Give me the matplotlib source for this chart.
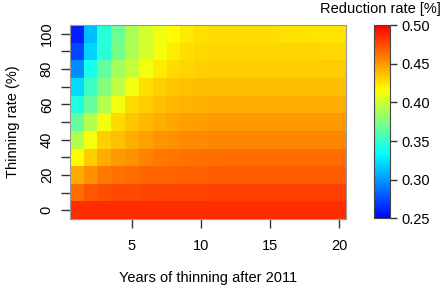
import numpy as np
import matplotlib
matplotlib.use('Agg')
import matplotlib.pyplot as plt
from matplotlib.colors import LinearSegmentedColormap

# data: reduction rate by thinning rate (rows) and year (columns)
years = list(range(1, 21))
thinning = [0, 10, 20, 30, 40, 50, 60, 70, 80, 90, 100]

r0 = [0.485] * 20
r10 = [0.464, 0.471, 0.474, 0.476, 0.476, 0.477, 0.477, 0.478, 0.478, 0.478,
       0.479, 0.479, 0.479, 0.479, 0.479, 0.479, 0.479, 0.479, 0.479, 0.479]
r20 = [0.445, 0.453, 0.460, 0.462, 0.464, 0.466, 0.467, 0.467, 0.468, 0.468,
       0.469, 0.469, 0.469, 0.469, 0.469, 0.469, 0.469, 0.469, 0.469, 0.469]
r30 = [0.417, 0.433, 0.443, 0.450, 0.453, 0.458, 0.460, 0.461, 0.462, 0.463,
       0.463, 0.464, 0.464, 0.464, 0.464, 0.464, 0.464, 0.464, 0.464, 0.464]
r40 = [0.392, 0.413, 0.432, 0.437, 0.443, 0.448, 0.452, 0.453, 0.455, 0.455,
       0.456, 0.456, 0.456, 0.456, 0.456, 0.456, 0.456, 0.456, 0.456, 0.456]
r50 = [0.366, 0.392, 0.413, 0.428, 0.435, 0.440, 0.443, 0.446, 0.448, 0.449,
       0.450, 0.450, 0.450, 0.450, 0.450, 0.450, 0.450, 0.450, 0.450, 0.450]
r60 = [0.343, 0.366, 0.392, 0.413, 0.428, 0.433, 0.437, 0.440, 0.441, 0.442,
       0.443, 0.443, 0.443, 0.443, 0.443, 0.443, 0.443, 0.443, 0.443, 0.443]
r70 = [0.322, 0.353, 0.376, 0.395, 0.413, 0.427, 0.432, 0.435, 0.437, 0.438,
       0.438, 0.438, 0.438, 0.438, 0.438, 0.438, 0.438, 0.438, 0.438, 0.438]
r80 = [0.296, 0.340, 0.366, 0.386, 0.398, 0.413, 0.423, 0.428, 0.430, 0.432,
       0.433, 0.433, 0.433, 0.433, 0.433, 0.433, 0.433, 0.433, 0.433, 0.433]
r90 = [0.273, 0.320, 0.346, 0.372, 0.390, 0.403, 0.413, 0.422, 0.427, 0.429,
       0.430, 0.430, 0.430, 0.430, 0.430, 0.430, 0.430, 0.430, 0.429, 0.429]
r100 = [0.260, 0.312, 0.346, 0.369, 0.389, 0.402, 0.412, 0.417, 0.423, 0.426,
        0.427, 0.427, 0.427, 0.427, 0.427, 0.426, 0.426, 0.425, 0.425, 0.425]

vmin, vmax = 0.25, 0.50
cbar_ticks = [0.25, 0.30, 0.35, 0.40, 0.45, 0.50]

Z = np.array([r0, r10, r20, r30, r40, r50, r60, r70, r80, r90, r100])

# blue -> cyan -> yellow -> red
cmap = LinearSegmentedColormap.from_list('bcyr', ['#0000FF', '#00FFFF', '#FFFF00', '#FF0000'])

plt.rcParams['font.family'] = ['Liberation Sans', 'DejaVu Sans']

fig = plt.figure(figsize=(4.42, 2.91), dpi=100)
ax = fig.add_axes([0.158, 0.247, 0.625, 0.667])

x_edges = np.arange(0.5, len(years) + 1, 1.0)
y_edges = np.arange(-5, 110, 10)
mesh = ax.pcolormesh(x_edges, y_edges, Z, cmap=cmap, vmin=vmin, vmax=vmax)

ax.set_xlim(0.5, 20.5)
ax.set_ylim(-5, 105)
ax.set_xticks([5, 10, 15, 20])
ax.set_yticks(thinning)
ax.set_yticklabels([str(t) if t % 20 == 0 else '' for t in thinning],
                   rotation=90, va='center')
for s in ax.spines.values():
    s.set_color('#999999')
    s.set_linewidth(0.8)
ax.tick_params(direction='out', length=6.5, width=1.0, color='#333333',
               labelsize=10.5)
ax.tick_params(axis='x', pad=8)
ax.tick_params(axis='y', pad=5)
ax.set_xlabel('Years of thinning after 2011', fontsize=10.5, labelpad=13)
ax.set_ylabel('Thinning rate (%)', fontsize=10.5, labelpad=14)

cax = fig.add_axes([0.846, 0.25, 0.036, 0.663])
cb = fig.colorbar(mesh, cax=cax, ticks=cbar_ticks, format='%.2f')
cb.outline.set_edgecolor('#444444')
cb.outline.set_linewidth(0.8)
cax.tick_params(direction='out', length=5, width=1.0, color='#333333',
                labelsize=10.5, pad=3)
fig.text(0.997, 0.968, 'Reduction rate [%]', ha='right', va='center', fontsize=10.5)

fig.savefig('out.png', dpi=100)
